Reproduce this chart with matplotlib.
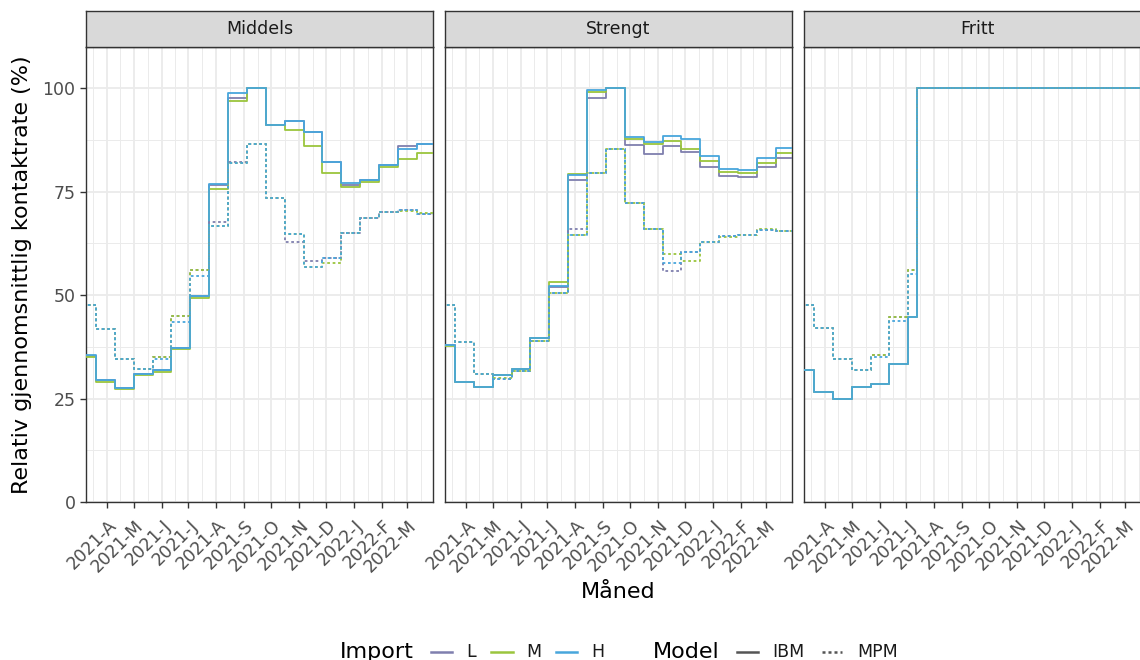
import matplotlib
matplotlib.use("Agg")
import matplotlib.pyplot as plt
import matplotlib.dates as mdates
import matplotlib.transforms as mtransforms
from matplotlib.lines import Line2D
import pandas as pd

plt.rcParams['font.family'] = ['DejaVu Sans']

# ---------------- data ----------------
panels = ["Middels", "Strengt", "Fritt"]
imports = ["L", "M", "H"]
colors = {"L": "#7f7fae", "M": "#9bc53d", "H": "#48a6dc"}

# 3-week periods, first period starting 2021-02-27
period_starts = pd.date_range("2021-02-27", periods=19, freq="21D")
series_end = pd.Timestamp("2022-04-05")

middels_ibm = {
    "L": [35.3, 29.5, 27.5, 30.9, 31.8, 37.2, 49.7, 76.5, 97.7, 100, 91.1, 92.1, 89.3, 82.2, 76.5, 77.8, 81.4, 85.9, 86.4],
    "M": [35.0, 29.0, 27.2, 30.7, 31.3, 37.0, 49.4, 75.7, 96.9, 100, 91.1, 89.8, 85.9, 79.6, 76.0, 77.3, 81.0, 82.8, 84.4],
    "H": [35.5, 29.4, 27.6, 31.0, 31.8, 37.2, 49.7, 76.8, 98.7, 100, 91.1, 92.1, 89.3, 82.2, 77.0, 77.8, 81.4, 85.3, 86.4],
}
middels_mpm = {
    "L": [47.7, 41.9, 34.6, 32.1, 35.0, 44.9, 56.0, 67.7, 82.2, 86.4, 73.5, 62.8, 58.2, 59.0, 64.9, 68.7, 70.0, 70.6, 69.6],
    "M": [47.7, 41.9, 34.6, 32.1, 35.0, 44.9, 56.0, 66.7, 82.0, 86.4, 73.5, 64.8, 56.8, 57.8, 64.9, 68.7, 70.0, 70.3, 69.8],
    "H": [47.7, 41.9, 34.6, 32.1, 34.6, 43.5, 54.7, 66.7, 82.0, 86.4, 73.5, 64.8, 56.8, 59.0, 64.9, 68.7, 70.0, 70.5, 69.7],
}
strengt_ibm = {
    "L": [38.0, 29.1, 27.9, 30.8, 32.1, 39.6, 52.0, 77.8, 97.7, 100, 86.2, 84.0, 85.9, 84.6, 81.0, 78.8, 78.4, 81.0, 83.0],
    "M": [37.6, 29.0, 27.8, 30.8, 32.1, 39.6, 53.1, 79.2, 99.0, 100, 87.7, 86.4, 87.2, 85.2, 82.4, 79.7, 79.6, 82.0, 84.3],
    "H": [38.0, 29.1, 27.9, 30.8, 32.1, 39.6, 52.3, 78.9, 99.5, 100, 88.3, 87.0, 88.4, 87.8, 83.5, 80.4, 80.2, 83.1, 85.6],
}
strengt_mpm = {
    "L": [47.7, 38.6, 31.0, 29.7, 31.6, 38.8, 50.5, 66.0, 79.6, 85.2, 72.3, 66.0, 55.8, 60.4, 62.8, 64.2, 64.6, 65.7, 65.5],
    "M": [47.7, 38.6, 31.0, 29.9, 31.6, 38.8, 50.5, 64.4, 79.6, 85.2, 72.3, 66.0, 59.8, 58.2, 62.8, 64.0, 64.6, 65.9, 65.5],
    "H": [47.7, 38.6, 31.0, 29.7, 31.6, 38.8, 50.5, 64.4, 79.6, 85.2, 72.3, 66.0, 57.8, 60.4, 62.8, 64.2, 64.6, 65.7, 65.5],
}
# Fritt: same periods until the opening in July, then 100 %
fritt_starts = list(period_starts[:7]) + [pd.Timestamp("2021-07-13")]
fritt_ibm = {
    "L": [31.8, 26.6, 24.9, 27.8, 28.6, 33.4, 44.7, 100],
    "M": [31.8, 26.6, 24.9, 27.8, 28.6, 33.4, 44.7, 100],
    "H": [31.8, 26.6, 24.9, 27.8, 28.6, 33.4, 44.7, 100],
}
fritt_mpm = {
    "L": [47.7, 42.0, 34.6, 32.0, 35.4, 44.7, 56.0, 100],
    "M": [47.7, 42.0, 34.6, 32.0, 35.4, 44.7, 56.0, 100],
    "H": [47.7, 42.0, 34.6, 32.0, 35.0, 43.7, 55.0, 100],
}

tick_dates = pd.date_range("2021-04-01", periods=12, freq="MS")
tick_labels = ["2021-A", "2021-M", "2021-J", "2021-J", "2021-A", "2021-S",
               "2021-O", "2021-N", "2021-D", "2022-J", "2022-F", "2022-M"]
y_ticks = [0, 25, 50, 75, 100]

panel_data = {
    "Middels": (list(period_starts), middels_ibm, middels_mpm),
    "Strengt": (list(period_starts), strengt_ibm, strengt_mpm),
    "Fritt": (fritt_starts, fritt_ibm, fritt_mpm),
}

# ---------------- layout ----------------
W, H = 1140, 660
fig = plt.figure(figsize=(W / 100, H / 100), dpi=100)

def fx(px):
    return px / W

def fy(py):
    return (H - py) / H

panel_left = [86, 445, 804]
panel_w = 347
panel_top, panel_bot = 46.7, 502
strip_top = 11

xlim = (mdates.date2num(pd.Timestamp("2021-03-09")), mdates.date2num(pd.Timestamp("2022-03-30")))
month_edges = pd.date_range("2021-03-01", periods=14, freq="MS")
minor_dates = [a + (b - a) / 2 for a, b in zip(month_edges[:-1], month_edges[1:])]

grid_c = "#ebebeb"
border_c = "#333333"
text_c = "#4d4d4d"
label_shift = mtransforms.ScaledTranslation(0.5 / 100, -4 / 100, fig.dpi_scale_trans)

for i, name in enumerate(panels):
    ax = fig.add_axes([fx(panel_left[i]), fy(panel_bot), fx(panel_w), (panel_bot - panel_top) / H])
    ax.set_xlim(*xlim)
    ax.set_ylim(0, 110)
    ax.set_xticks(mdates.date2num(tick_dates))
    ax.set_xticks(mdates.date2num(minor_dates), minor=True)
    ax.set_yticks(y_ticks)
    ax.set_yticks([12.5, 37.5, 62.5, 87.5], minor=True)
    ax.grid(which="major", color=grid_c, lw=1.3, zorder=0)
    ax.grid(which="minor", color=grid_c, lw=0.7, zorder=0)
    ax.set_axisbelow(True)
    for sp in ax.spines.values():
        sp.set_color(border_c)
        sp.set_linewidth(1.0)
    ax.tick_params(which="minor", length=0)
    ax.tick_params(which="major", length=4, width=1.0, color=border_c,
                   labelcolor=text_c, labelsize=12.5)
    ax.set_xticklabels(tick_labels, rotation=45, ha="right", va="top",
                       rotation_mode="anchor")
    for lab in ax.get_xticklabels():
        lab.set_transform(lab.get_transform() + label_shift)
    if i == 0:
        ax.set_yticklabels([str(v) for v in y_ticks])
    else:
        ax.tick_params(axis="y", length=0, labelleft=False)

    starts, ibm, mpm = panel_data[name]
    for model, style in ((ibm, "-"), (mpm, (0, (1.5, 1.5)))):
        for imp in imports:
            vals = list(model[imp]) + [model[imp][-1]]
            xs = mdates.date2num(pd.DatetimeIndex(list(starts) + [series_end]))
            ax.step(xs, vals, where="post", color=colors[imp], lw=1.3,
                    linestyle=style, zorder=3)

    # strip
    sax = fig.add_axes([fx(panel_left[i]), fy(panel_top), fx(panel_w), (panel_top - strip_top) / H])
    sax.set_facecolor("#d9d9d9")
    sax.set_xticks([])
    sax.set_yticks([])
    for sp in sax.spines.values():
        sp.set_color(border_c)
        sp.set_linewidth(1.0)
    sax.text(0.5, 0.5, name, ha="center", va="center", fontsize=12.5,
             color="#1a1a1a", transform=sax.transAxes)

# axis titles
fig.text(fx(618.5), fy(592), "Måned", ha="center", va="center", fontsize=16, color="black")
fig.text(fx(22), fy((panel_top + panel_bot) / 2), "Relativ gjennomsnittlig kontaktrate (%)",
         ha="center", va="center", rotation=90, fontsize=16, color="black")

# legend (drawn manually)
ly = fy(652)
fig.text(fx(340), ly, "Import", ha="left", va="center", fontsize=16, color="black")
for imp, (k0, k1, tx) in zip(imports, [(431, 452, 466), (491, 513, 526), (556, 577, 591)]):
    fig.add_artist(Line2D([fx(k0), fx(k1)], [ly, ly], color=colors[imp], lw=1.8,
                          transform=fig.transFigure))
    fig.text(fx(tx), ly, imp, ha="left", va="center", fontsize=12.5, color="#1a1a1a")
fig.text(fx(653), ly, "Model", ha="left", va="center", fontsize=16, color="black")
for lab, style, (k0, k1, tx) in [("IBM", "-", (737, 758, 772)),
                                 ("MPM", (0, (1.2, 1.2)), (822, 842, 857))]:
    fig.add_artist(Line2D([fx(k0), fx(k1)], [ly, ly], color="#555555", lw=1.8,
                          linestyle=style, transform=fig.transFigure))
    fig.text(fx(tx), ly, lab, ha="left", va="center", fontsize=12.5, color="#1a1a1a")

fig.savefig("out.png", dpi=100)
